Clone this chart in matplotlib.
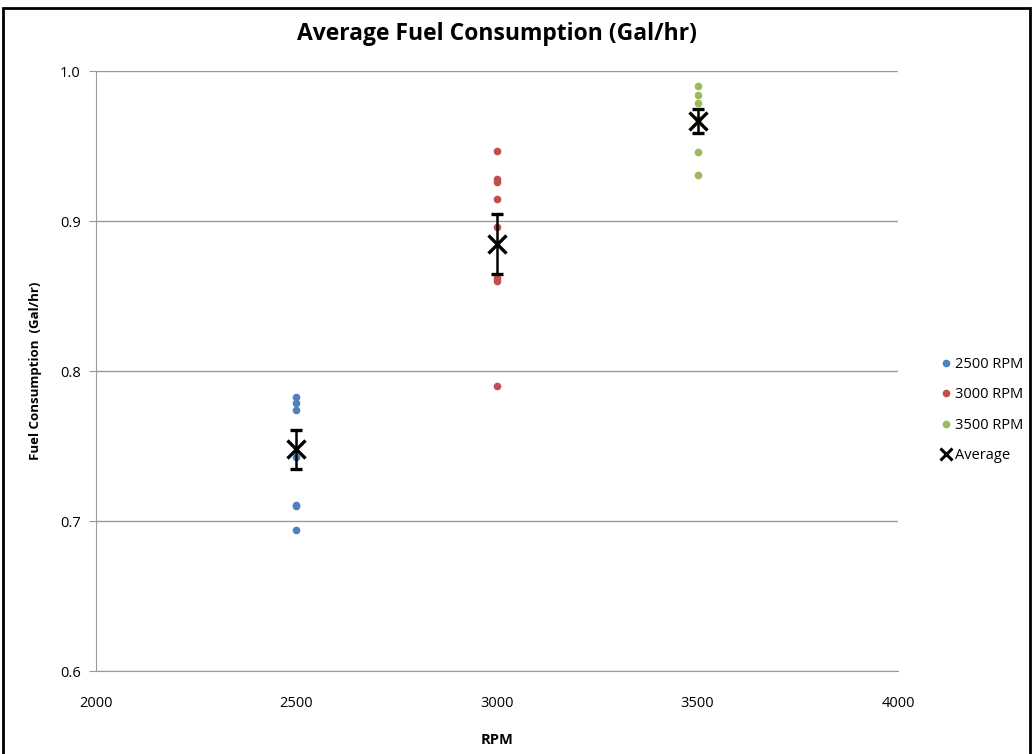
import matplotlib
matplotlib.use('Agg')
import matplotlib.pyplot as plt
from matplotlib.patches import Rectangle
from matplotlib.lines import Line2D

plt.rcParams['font.family'] = ['Open Sans', 'DejaVu Sans']

# Data
rpm_levels = [2500, 3000, 3500]
series_labels = ['2500 RPM', '3000 RPM', '3500 RPM']
series_colors = ['#4F81BD', '#C0504D', '#9BBB59']
fuel_2500 = [0.783, 0.779, 0.774, 0.743, 0.711, 0.710, 0.694]
fuel_3000 = [0.947, 0.928, 0.926, 0.915, 0.896, 0.862, 0.860, 0.790]
fuel_3500 = [0.990, 0.984, 0.979, 0.968, 0.946, 0.931]
avg_fuel = [0.748, 0.885, 0.967]
avg_err = [0.013, 0.020, 0.008]

fig = plt.figure(figsize=(10.34, 7.54), dpi=100)
ax = fig.add_axes([0.0928, 0.110, 0.7757, 0.7958])

handles = []
for rpm, vals, lab, col in zip(rpm_levels, [fuel_2500, fuel_3000, fuel_3500],
                               series_labels, series_colors):
    h, = ax.plot([rpm] * len(vals), vals, 'o', color=col, markersize=4.5,
                 linestyle='none', label=lab, zorder=3)
    handles.append(h)

ax.errorbar(rpm_levels, avg_fuel, yerr=avg_err, fmt='x', color='black',
            markersize=13, mew=2.4, elinewidth=1.8, capsize=4, capthick=1.8,
            zorder=4)
handles.append(Line2D([], [], marker='x', color='black', linestyle='none',
                      markersize=8, mew=2.2, label='Average'))

ax.set_xlim(2000, 4000)
ax.set_ylim(0.6, 1.0)
ax.set_xticks([2000, 2500, 3000, 3500, 4000])
ax.set_yticks([0.6, 0.7, 0.8, 0.9, 1.0])
ax.set_yticklabels(['0.6', '0.7', '0.8', '0.9', '1.0'])
ax.grid(axis='y', color='#999999', linewidth=1)
ax.set_axisbelow(True)
for s in ['top', 'right']:
    ax.spines[s].set_visible(False)
for s in ['left', 'bottom']:
    ax.spines[s].set_color('#999999')
ax.tick_params(axis='x', length=0, pad=18, labelsize=10.5)
ax.tick_params(axis='y', length=5, color='#999999', labelsize=10.5, pad=6)

ax.set_title('Average Fuel Consumption (Gal/hr)', fontsize=16.5, fontweight='bold', pad=22)
ax.set_xlabel('RPM', fontsize=10.5, fontweight='bold', labelpad=16)
ax.set_ylabel('Fuel Consumption  (Gal/hr)', fontsize=9.5, fontweight='bold', labelpad=13)

ax.legend(handles=handles, loc='center left', bbox_to_anchor=(1.035, 0.435),
          frameon=False, fontsize=10.5, handletextpad=0.15, handlelength=0.9,
          labelspacing=1.05)

fig.patches.append(Rectangle((3 / 1034, -0.05), 1027 / 1034, 1.05 - 8 / 754,
                             transform=fig.transFigure, fill=False,
                             edgecolor='black', linewidth=2))

fig.savefig('out.png', dpi=100)
